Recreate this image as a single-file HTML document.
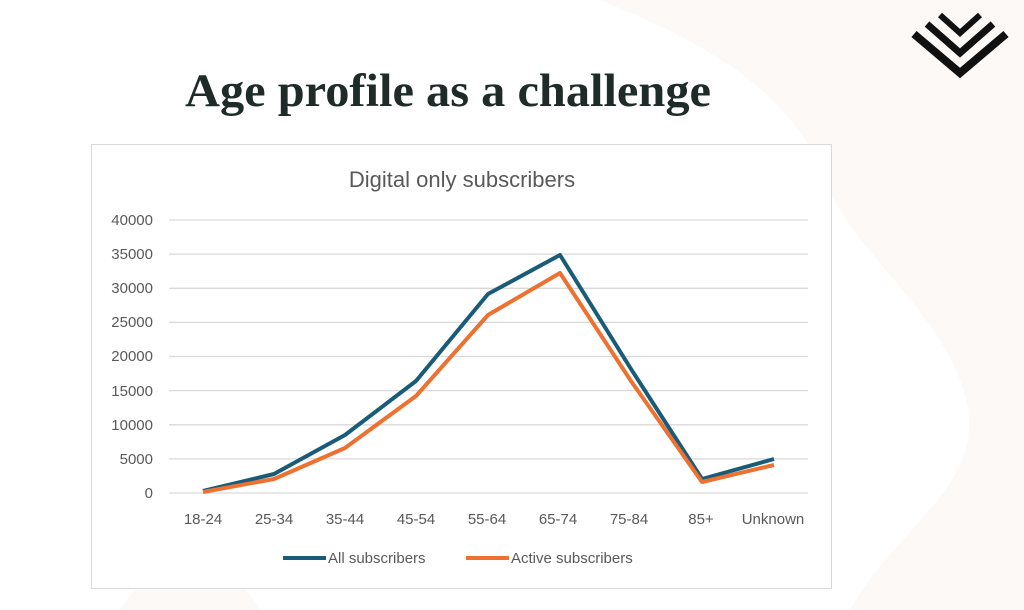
<!DOCTYPE html>
<html><head><meta charset="utf-8"><style>
html,body{margin:0;padding:0;width:1024px;height:610px;overflow:hidden;background:#fff;}
</style></head><body>
<svg width="1024" height="610" viewBox="0 0 1024 610" xmlns="http://www.w3.org/2000/svg">
<rect width="1024" height="610" fill="#fff"/>
<path d="M600 0 L1024 0 L1024 610 L850 610 C900 520 1000 480 960 380 C930 300 850 250 820 170 C790 90 700 40 600 0Z" fill="#fcf9f6"/>
<path d="M120 610 C150 560 220 540 260 610Z" fill="#fcf9f6"/>
<!-- logo -->
<g fill="none" stroke="#111" stroke-linejoin="miter">
<polyline points="914,34 960,73 1006,34" stroke-width="8"/>
<polyline points="927,24 960,53 993,24" stroke-width="7"/>
<polyline points="940,15 960,33 980,15" stroke-width="6"/>
</g>
<text x="448" y="106" text-anchor="middle" font-family="Liberation Serif, serif" font-weight="bold" font-size="47" fill="#1e2b28" textLength="526" lengthAdjust="spacingAndGlyphs">Age profile as a challenge</text>
<rect x="91.5" y="144.5" width="740" height="444" fill="#fff" stroke="#d9d9d9"/>
<text x="462" y="187" text-anchor="middle" font-family="Liberation Sans, sans-serif" font-size="22" fill="#595959">Digital only subscribers</text>
<g stroke="#d9d9d9" stroke-width="1.3">
<line x1="169" x2="808" y1="220" y2="220"/>
<line x1="169" x2="808" y1="254.1" y2="254.1"/>
<line x1="169" x2="808" y1="288.3" y2="288.3"/>
<line x1="169" x2="808" y1="322.4" y2="322.4"/>
<line x1="169" x2="808" y1="356.5" y2="356.5"/>
<line x1="169" x2="808" y1="390.6" y2="390.6"/>
<line x1="169" x2="808" y1="424.8" y2="424.8"/>
<line x1="169" x2="808" y1="458.9" y2="458.9"/>
<line x1="169" x2="808" y1="493" y2="493"/>
</g>
<g font-family="Liberation Sans, sans-serif" font-size="15" fill="#595959" text-anchor="end">
<text x="153" y="225">40000</text>
<text x="153" y="259">35000</text>
<text x="153" y="293">30000</text>
<text x="153" y="327">25000</text>
<text x="153" y="361">20000</text>
<text x="153" y="396">15000</text>
<text x="153" y="430">10000</text>
<text x="153" y="464">5000</text>
<text x="153" y="498">0</text>
</g>
<g font-family="Liberation Sans, sans-serif" font-size="15" fill="#595959" text-anchor="middle">
<text x="203" y="524">18-24</text>
<text x="274" y="524">25-34</text>
<text x="345" y="524">35-44</text>
<text x="416" y="524">45-54</text>
<text x="487" y="524">55-64</text>
<text x="558" y="524">65-74</text>
<text x="629" y="524">75-84</text>
<text x="701" y="524">85+</text>
<text x="773" y="524">Unknown</text>
</g>
<polyline fill="none" stroke="#1a5c78" stroke-width="4" stroke-linejoin="round" points="203,491 274,474 345,435 416,381 488,294 560,255 631,369 702,479 774,459"/>
<polyline fill="none" stroke="#ed7130" stroke-width="4" stroke-linejoin="round" points="203,492 274,479 345,448 416,396 488,315 560,273 631,381 702,482 774,465"/>
<line x1="283" x2="326" y1="558" y2="558" stroke="#1a5c78" stroke-width="4"/>
<text x="328" y="563" font-family="Liberation Sans, sans-serif" font-size="15" fill="#595959">All subscribers</text>
<line x1="466" x2="509" y1="558" y2="558" stroke="#ed7130" stroke-width="4"/>
<text x="511" y="563" font-family="Liberation Sans, sans-serif" font-size="15" fill="#595959">Active subscribers</text>
</svg>
</body></html>
